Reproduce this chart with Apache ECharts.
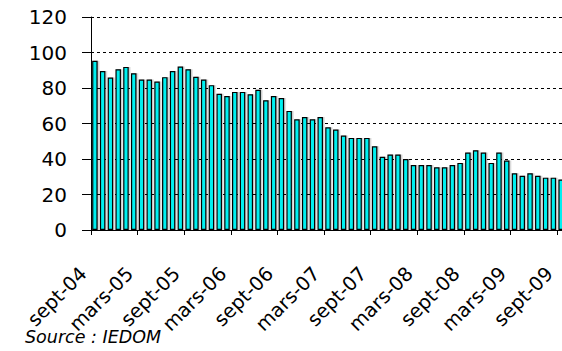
<!DOCTYPE html>
<html>
<head>
<meta charset="utf-8">
<script src="https://cdn.jsdelivr.net/npm/echarts@6/dist/echarts.min.js"></script>
<style>
html,body{margin:0;padding:0;background:#fff;}
#chart{width:562px;height:351px;}
</style>
</head>
<body>
<div id="chart"></div>
<script>
var categories = [
  "sept-04","oct-04","nov-04","déc-04","janv-05","févr-05",
  "mars-05","avr-05","mai-05","juin-05","juil-05","août-05",
  "sept-05","oct-05","nov-05","déc-05","janv-06","févr-06",
  "mars-06","avr-06","mai-06","juin-06","juil-06","août-06",
  "sept-06","oct-06","nov-06","déc-06","janv-07","févr-07",
  "mars-07","avr-07","mai-07","juin-07","juil-07","août-07",
  "sept-07","oct-07","nov-07","déc-07","janv-08","févr-08",
  "mars-08","avr-08","mai-08","juin-08","juil-08","août-08",
  "sept-08","oct-08","nov-08","déc-08","janv-09","févr-09",
  "mars-09","avr-09","mai-09","juin-09","juil-09","août-09",
  "sept-09"
];
var values = [
  95.3, 89.6, 85.9, 90.6, 91.9, 88.3,
  84.8, 84.8, 83.6, 86.1, 89.6, 92.1,
  90.6, 86.3, 84.8, 81.6, 76.7, 75.5,
  77.8, 77.8, 76.5, 79.0, 73.1, 75.5,
  74.4, 67.1, 62.4, 63.7, 62.4, 63.7,
  57.9, 56.6, 53.2, 51.9, 51.9, 51.9,
  47.2, 41.2, 42.5, 42.5, 40.0, 36.6,
  36.6, 36.6, 35.3, 35.3, 36.6, 37.8,
  43.6, 44.9, 43.6, 37.8, 43.6, 39.1,
  32.0, 30.6, 32.0, 30.6, 29.5, 29.5,
  28.4
];
var yTicks = { min: 0, max: 120, step: 20 };
var sourceText = "Source : IEDOM";

var chart = echarts.init(document.getElementById('chart'), null, {renderer: 'svg'});
chart.setOption({
  animation: false,
  backgroundColor: '#ffffff',
  grid: { left: 91, top: 17, width: 474, height: 213, containLabel: false, outerBoundsMode: 'none' },
  xAxis: {
    type: 'category',
    data: categories,
    boundaryGap: true,
    axisLine: { lineStyle: { color: '#000', width: 1 } },
    axisTick: { show: true, interval: 5, length: 5, alignWithLabel: false, lineStyle: { color: '#000' } },
    axisLabel: {
      show: true,
      interval: 5,
      rotate: 45,
      margin: 29,
      formatter: function (v) { return v + '\u00a0\u00a0\u2009'; },
      fontFamily: 'DejaVu Sans',
      fontSize: 19.5,
      color: '#000'
    },
    splitLine: { show: false }
  },
  yAxis: {
    type: 'value',
    min: yTicks.min, max: yTicks.max, interval: yTicks.step,
    axisLine: { show: true, lineStyle: { color: '#000', width: 1 } },
    axisTick: { show: true, length: 9, lineStyle: { color: '#000' } },
    axisLabel: { margin: 24, fontFamily: 'DejaVu Sans', fontSize: 20, color: '#000' },
    splitLine: { show: true, lineStyle: { color: '#000', type: [3, 3], width: 1 } }
  },
  series: [{
    type: 'bar',
    data: values,
    barWidth: 5.5,
    itemStyle: {
      color: '#00F0F0',
      borderColor: '#000',
      borderWidth: 1.2,
      shadowColor: 'rgba(0,0,0,0.2)',
      shadowOffsetX: 1.5,
      shadowOffsetY: 0,
      shadowBlur: 0
    }
  }],
  graphic: [{
    type: 'text',
    left: 25, top: 328,
    style: {
      text: sourceText,
      font: 'italic 17.5px "DejaVu Sans"',
      fill: '#000'
    }
  }]
});
</script>
</body>
</html>
